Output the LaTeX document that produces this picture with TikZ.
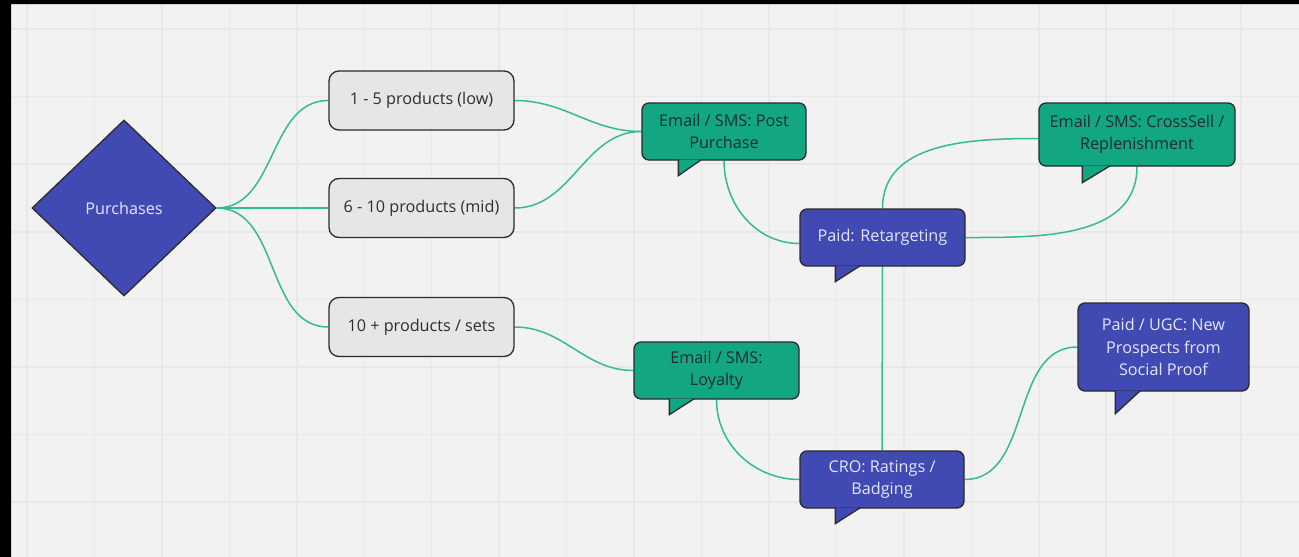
\documentclass[tikz,border=0pt]{standalone}
\usepackage{fontspec}
\setmainfont{Open Sans}
\usepackage{xcolor}
\definecolor{canvasgrey}{RGB}{242,242,242}
\definecolor{gridgrey}{RGB}{232,232,232}
\definecolor{boxgrey}{RGB}{230,230,230}
\definecolor{darkline}{RGB}{43,43,43}
\definecolor{mirogreen}{RGB}{19,166,131}
\definecolor{miroblue}{RGB}{65,74,178}
\definecolor{linkteal}{RGB}{52,187,146}
\definecolor{paletext}{RGB}{228,230,250}
\definecolor{darktext}{RGB}{30,45,42}
\usetikzlibrary{shapes.geometric}
\pgfdeclarelayer{canvas}
\pgfdeclarelayer{edges}
\pgfsetlayers{canvas,edges,main}
\newcommand{\widthoption}{185pt}
\newcommand{\heightcallout}{57pt}
\tikzset{
    common/.style={draw=darkline, line width=1.3pt, align=center, inner sep=0pt},
    option/.style={common, rectangle, rounded corners=10pt, fill=boxgrey, text=black!82, minimum width=\widthoption, minimum height=59pt},
    choice/.style={common, diamond, fill=miroblue, text=paletext, minimum width=184pt, minimum height=176pt},
    green-fill/.style={draw=darkline, line width=1.3pt, fill=mirogreen},
    blue-fill/.style={draw=darkline, line width=1.3pt, fill=miroblue},
    email/.style={common, green-fill, rounded corners=7pt, text=darktext, minimum height=\heightcallout},
    paid/.style={common, blue-fill, rounded corners=7pt, text=paletext, minimum height=\heightcallout},
    link/.style={linkteal, line width=1.5pt},
    grid-line/.style={gridgrey, line width=1.5pt}
}
\newcommand\calltail[5]{
  \filldraw[#1] ([shift={(#3,1)}]#2.south west) -- ++(0,-#5-1) -- ([shift={(#3+#4,1)}]#2.south west);
}
\begin{document}
\begin{tikzpicture}[x=1pt, y=1pt, font=\fontsize{16.2}{22.5}\selectfont]
      \useasboundingbox (0,0) rectangle (1299,-557);

      \begin{pgfonlayer}{canvas}
        \fill[canvasgrey] (0,0) rectangle (1299,-557);
        \foreach \i in {0,...,18}
          \draw[grid-line] ({27+67.45*\i},-4) -- ({27+67.45*\i},-557);
        \foreach \j in {0,...,7}
          \draw[grid-line] (11,{-29-67.6*\j}) -- (1299,{-29-67.6*\j});
        \fill[black] (0,0) rectangle (11,-557) (0,0) rectangle (1299,-4);
      \end{pgfonlayer}

      \path (124,-208) node[choice] (purchases) {Purchases};

      \path (421.5,-100.5) node[option] (opt-low) {1 - 5 products (low)}
          +(0,-107.5) node[option] (opt-mid) {6 - 10 products (mid)}
          +(0,-226.5) node[option] (opt-sets) {10 + products / sets};

      \path (724,-131.5) node[email, minimum width=164pt] (email-post) {Email / SMS: Post\\Purchase}
          (1137,-134.5) node[email, minimum width=196pt, minimum height=63pt] (email-cross) {Email / SMS: CrossSell /\\Replenishment}
          (882.5,-237.5) node[paid, minimum width=165pt] (paid-retarget) {Paid: Retargeting}
          (716.5,-370.5) node[email, minimum width=165pt] (email-loyal) {Email / SMS:\\Loyalty}
          (882,-479.5) node[paid, minimum width=164pt] (cro-rating) {CRO: Ratings /\\Badging}
          (1163.5,-347) node[paid, minimum width=171pt, minimum height=88pt] (paid-ugc) {Paid / UGC: New\\Prospects from\\Social Proof};

      \calltail{green-fill}{email-post}{37}{23}{15}
      \calltail{green-fill}{email-cross}{44}{28}{16}
      \calltail{blue-fill}{paid-retarget}{36}{25}{15}
      \calltail{green-fill}{email-loyal}{36}{25}{15}
      \calltail{blue-fill}{cro-rating}{36}{25}{15}
      \calltail{blue-fill}{paid-ugc}{38}{25}{22}

      \begin{pgfonlayer}{edges}
        \draw[link] (purchases.east) to[out=0, in=180] (opt-low.west);
        \draw[link] (purchases.east) -- (opt-mid.west);
        \draw[link] (purchases.east) to[out=0, in=180] (opt-sets.west);
        \draw[link] (opt-low.east) to[out=0, in=180] (email-post.west);
        \draw[link] (opt-mid.east) to[out=0, in=180] (email-post.west);
        \draw[link] (opt-sets.east) to[out=0, in=180] (email-loyal.west);
        \draw[link] (email-post.south) to[out=-90, in=180] ([yshift=-6]paid-retarget.west);
        \draw[link] (paid-retarget.north) to[out=90, in=180] ([yshift=-4]email-cross.west);
        \draw[link] (paid-retarget.east) to[out=0, in=-90] (email-cross.south);
        \draw[link] (paid-retarget.south) -- (cro-rating.north);
        \draw[link] (email-loyal.south) to[out=-90, in=180] (cro-rating.west);
        \draw[link] (cro-rating.east) to[out=0, in=180] (paid-ugc.west);
      \end{pgfonlayer}
\end{tikzpicture}
\end{document}
